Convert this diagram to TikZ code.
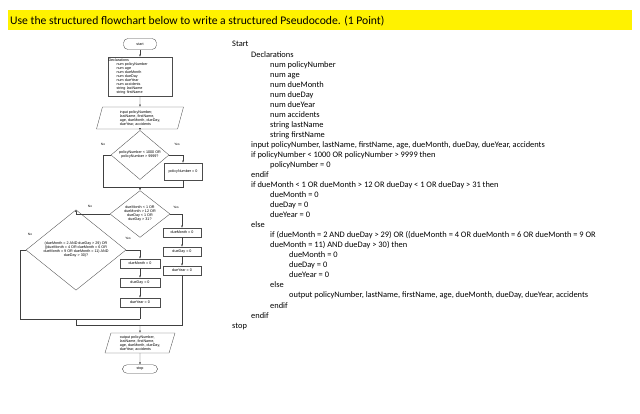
\documentclass[tikz,border=0pt]{standalone}
\usepackage{fontspec}
\setmainfont{Carlito}
\newfontfamily\fcfont{Liberation Sans}
\usetikzlibrary{shapes.geometric,arrows.meta}
\begin{document}
\begin{tikzpicture}[x=1pt,y=-1pt,
  line/.style={draw=black!75,line width=0.35pt},
  arr/.style={line,-{Latex[length=2.2pt,width=1.8pt]}},
  fc/.style={font=\fcfont\fontsize{3.7}{4}\selectfont,inner sep=0.6pt,align=center},
  fbox/.style={fc,draw=black!70,line width=0.35pt,rectangle},
  term/.style={fbox,rounded corners=4.5pt,minimum width=33pt},
  dec/.style={fc,draw=black!70,line width=0.35pt,diamond,inner sep=0pt},
  io/.style={fc,draw=black!70,line width=0.35pt,trapezium,trapezium left angle=70,
    trapezium right angle=110,trapezium stretches body,align=left},
  yn/.style={font=\fcfont\fontsize{3.2}{3.5}\selectfont,inner sep=0pt},
  pc/.style={font=\fontsize{8.4}{10}\selectfont,inner sep=0pt,anchor=base west},
]
\useasboundingbox (0,0) rectangle (640,414);
% title
\node[fill=yellow,minimum width=624pt,minimum height=20pt,inner sep=0pt,anchor=north west] (titlebar) at (8,10) {};
\node[font=\fontsize{11.65}{13}\selectfont,inner sep=0pt,anchor=base west] (title) at (10,24.5)
  {Use the structured flowchart below to write a structured Pseudocode. (1 Point)};

% flowchart
\node[term,minimum height=11pt] (start) at (140,44) {start};
\node[fbox,text width=63pt,minimum height=39pt,align=left] (decl) at (140,76.5)
  {Declarations\\\hspace*{8pt}num policyNumber\\\hspace*{8pt}num age\\\hspace*{8pt}num dueMonth\\\hspace*{8pt}num dueDay\\\hspace*{8pt}num dueYear\\\hspace*{8pt}num accidents\\\hspace*{8pt}string lastName\\\hspace*{8pt}string firstName};
\node[io,minimum width=87pt,minimum height=22pt] (inp) at (140,118)
  {input policyNumber,\\lastName, firstName,\\age, dueMonth, dueDay,\\dueYear, accidents};
\node[dec,minimum width=58pt,minimum height=30pt] (d1) at (140,155)
  {policyNumber < 1000 OR\\policyNumber > 9999?};
\node[yn] (no1) at (103,144) {No};
\node[yn] (yes1) at (177,144) {Yes};
\node[fbox,minimum width=38pt,minimum height=17pt] (p0) at (183,171.5) {policyNumber = 0};
\coordinate (j1l) at (103,187);
\coordinate (j1) at (140,187);

\node[dec,minimum width=60pt,minimum height=34pt] (d2) at (140,214)
  {dueMonth < 1 OR\\dueMonth > 12 OR\\dueDay < 1 OR\\dueDay > 31?};
\node[yn] (no2) at (90,206) {No};
\node[yn] (yes2) at (176,207) {Yes};
\node[fbox,minimum width=38pt,minimum height=9pt] (m1) at (182,232.5) {dueMonth = 0};
\node[fbox,minimum width=38pt,minimum height=9pt] (m2) at (182,251.5) {dueDay = 0};
\node[fbox,minimum width=38pt,minimum height=9pt] (m3) at (182,270.5) {dueYear = 0};

\node[dec,minimum width=100pt,minimum height=56pt] (d3) at (76,250)
  {(dueMonth = 2 AND dueDay > 29) OR\\((dueMonth = 4 OR dueMonth = 6 OR\\dueMonth = 9 OR dueMonth = 11) AND\\dueDay > 30)?};
\node[yn] (no3) at (30,234) {No};
\node[yn] (yes3) at (128,238) {Yes};
\node[fbox,minimum width=40pt,minimum height=9pt] (n1) at (140,263.5) {dueMonth = 0};
\node[fbox,minimum width=40pt,minimum height=9pt] (n2) at (140,282.5) {dueDay = 0};
\node[fbox,minimum width=40pt,minimum height=9pt] (n3) at (140,302.5) {dueYear = 0};
\coordinate (j3l) at (20,319);
\coordinate (j3) at (76,319);
\coordinate (j3r) at (140,319);
\coordinate (j2l) at (76,325);
\coordinate (j2) at (140,325);

\node[io,minimum width=70pt,minimum height=20pt] (out) at (140,343)
  {output policyNumber,\\lastName, firstName,\\age, dueMonth, dueDay,\\dueYear, accidents};
\node[term,minimum height=8.5pt,minimum width=35pt] (stop) at (140,369) {stop};

% connectors
\draw[arr] (start) -- (decl);
\draw[arr] (decl) -- (inp);
\draw[arr] (inp) -- (d1);
\draw[line] (d1.west) -| (j1l) -- (j1);
\draw[arr] (d1.east) -| (p0.north);
\draw[line] (p0.south) |- (j1);
\draw[arr] (j1) -- (d2.north);
\draw[arr] (d2.east) -| (m1.north);
\draw[arr] (m1) -- (m2);
\draw[arr] (m2) -- (m3);
\draw[line] (m3.south) |- (j2l);
\draw[arr] (d2.west) -| (d3.north);
\draw[arr] (d3.east) -| (n1.north);
\draw[arr] (n1) -- (n2);
\draw[arr] (n2) -- (n3);
\draw[line] (n3.south) -- (j3r);
\draw[line] (d3.west) -| (j3l) -- (j3r);
\draw[line] (j3) -- (j2l);
\draw[arr] (j2) -- (out.north);
\draw[arr] (out) -- (stop);

% pseudocode
\foreach \lv/\tx [count=\i from 0] in {
 0/{Start},
 1/{Declarations},
 2/{num policyNumber},
 2/{num age},
 2/{num dueMonth},
 2/{num dueDay},
 2/{num dueYear},
 2/{num accidents},
 2/{string lastName},
 2/{string firstName},
 1/{input policyNumber, lastName, firstName, age, dueMonth, dueDay, dueYear, accidents},
 1/{if policyNumber < 1000 OR policyNumber > 9999 then},
 2/{policyNumber = 0},
 1/{endif},
 1/{if dueMonth < 1 OR dueMonth > 12 OR dueDay < 1 OR dueDay > 31 then},
 2/{dueMonth = 0},
 2/{dueDay = 0},
 2/{dueYear = 0},
 1/{else},
 2/{if (dueMonth = 2 AND dueDay > 29) OR ((dueMonth = 4 OR dueMonth = 6 OR dueMonth = 9 OR},
 2/{dueMonth = 11) AND dueDay > 30) then},
 3/{dueMonth = 0},
 3/{dueDay = 0},
 3/{dueYear = 0},
 2/{else},
 3/{output policyNumber, lastName, firstName, age, dueMonth, dueDay, dueYear, accidents},
 2/{endif},
 1/{endif},
 0/{stop}}
{
  \node[pc] (pc\i) at (232+19*\lv, 47+10.04*\i) {\tx};
}
\end{tikzpicture}
\end{document}
